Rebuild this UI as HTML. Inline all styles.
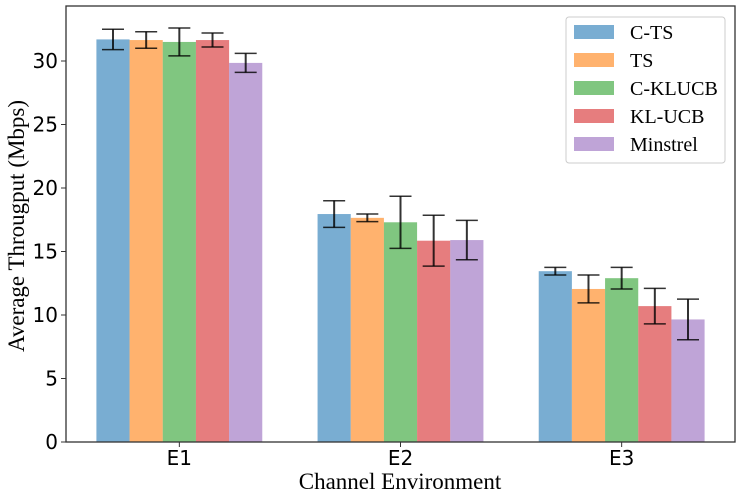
<!DOCTYPE html>
<html><head><meta charset="utf-8"><style>
body{margin:0;background:#fff}
svg{display:block}
</style></head><body>
<svg id="chart" width="742" height="501" xmlns="http://www.w3.org/2000/svg">
<rect x="0" y="0" width="742" height="501" fill="#fff"/>
<g id="bars"></g>
<g id="errs"></g>
<rect x="66" y="6" width="669" height="436" fill="none" stroke="#333" stroke-width="1.3"/>
<g id="yticks"></g>
<g id="xticks"></g>
<text x="400" y="489" text-anchor="middle" font-family="Liberation Serif, serif" font-size="23" fill="#000">Channel Environment</text>
<text transform="translate(24,226) rotate(-90)" text-anchor="middle" font-family="Liberation Serif, serif" font-size="23" fill="#000">Average Througput (Mbps)</text>
<g>
<rect x="566" y="17" width="159" height="146" rx="3" fill="#fff" fill-opacity="0.8" stroke="#ccc"/>
<g id="legend"></g>
</g>
</svg>
<script>
const categories = ["E1","E2","E3"];
const seriesNames = ["C-TS","TS","C-KLUCB","KL-UCB","Minstrel"];
const colors = ["#1f77b4","#ff7f0e","#2ca02c","#d62728","#9467bd"];
const cts = [31.7, 17.95, 13.45];
const ts = [31.65, 17.65, 12.05];
const cklucb = [31.5, 17.3, 12.9];
const klucb = [31.65, 15.85, 10.7];
const minstrel = [29.85, 15.9, 9.65];
const ctsErr = [0.8, 1.05, 0.3];
const tsErr = [0.65, 0.3, 1.1];
const cklucbErr = [1.1, 2.05, 0.85];
const klucbErr = [0.55, 2.0, 1.4];
const minstrelErr = [0.75, 1.55, 1.6];
const yTicks = [0,5,10,15,20,25,30];
const values = [cts, ts, cklucb, klucb, minstrel];
const errs = [ctsErr, tsErr, cklucbErr, klucbErr, minstrelErr];
const NS="http://www.w3.org/2000/svg";
const L=66,R=735,T=6,B=442;
const xmin=-0.5125,xmax=2.5125,ymax=(B-T)/12.7;
function X(v){return L+(v-xmin)/(xmax-xmin)*(R-L);}
function Y(v){return B-v/ymax*(B-T);}
function mk(tag,attrs,parent){const e=document.createElementNS(NS,tag);for(const k in attrs)e.setAttribute(k,attrs[k]);parent.appendChild(e);return e;}
const bw=0.15;
const gb=document.getElementById('bars'),ge=document.getElementById('errs');
values.forEach((s,si)=>{s.forEach((v,ci)=>{
 const c=ci+(si-2)*bw;
 const x0=X(c-bw/2),x1=X(c+bw/2);
 const r=mk('rect',{x:x0,y:Y(v),width:x1-x0,height:Y(0)-Y(v),fill:colors[si],'fill-opacity':0.6},gb);
 
 
 const e=errs[si][ci],cx=X(c);
 const g=mk('g',{stroke:'#000','stroke-opacity':0.8,'stroke-width':1.5},ge);
 
 
 mk('line',{x1:cx,x2:cx,y1:Y(v-e),y2:Y(v+e),'stroke-width':2},g);
 mk('line',{x1:cx-11,x2:cx+11,y1:Y(v-e),y2:Y(v-e)},g);
 mk('line',{x1:cx-11,x2:cx+11,y1:Y(v+e),y2:Y(v+e)},g);
});});
const gy=document.getElementById('yticks');
yTicks.forEach(t=>{
 mk('line',{x1:L-5,x2:L,y1:Y(t),y2:Y(t),stroke:'#333','stroke-width':1},gy);
 const tx=mk('text',{x:L-8,y:Y(t)+7,'text-anchor':'end','font-family':'DejaVu Sans, sans-serif','font-size':20,fill:'#000'},gy);
 tx.textContent=t;
 
 
});
const gx=document.getElementById('xticks');
categories.forEach((c,i)=>{
 mk('line',{x1:X(i),x2:X(i),y1:B,y2:B+5,stroke:'#333','stroke-width':1},gx);
 const tx=mk('text',{x:X(i),y:465,'text-anchor':'middle','font-family':'DejaVu Sans, sans-serif','font-size':20,fill:'#000'},gx);
 tx.textContent=c;
 
 
});
const gl=document.getElementById('legend');
seriesNames.forEach((n,i)=>{
 const y=32+i*28;
 const g=mk('g',{},gl);
 
 
 mk('rect',{x:574,y:y-7,width:40,height:14,fill:colors[i],'fill-opacity':0.6},g);
 const t=mk('text',{x:630,y:y+7,'font-family':'Liberation Serif, serif','font-size':20,fill:'#000'},g);
 t.textContent=n;
});
</script>
</body></html>
